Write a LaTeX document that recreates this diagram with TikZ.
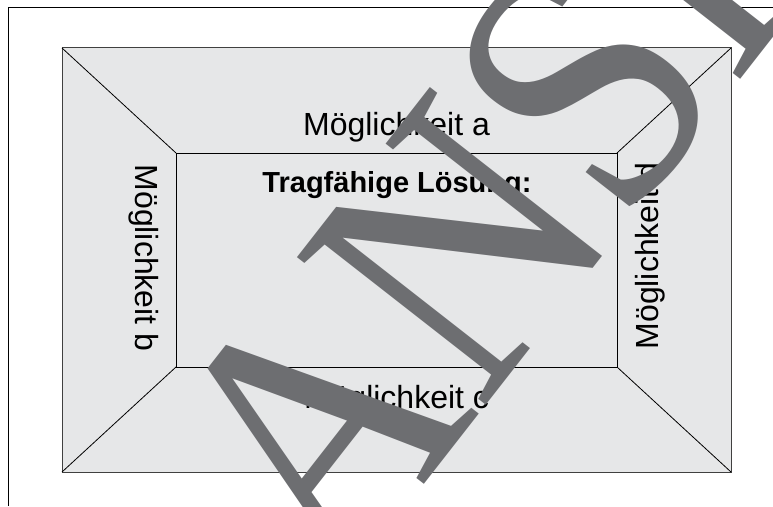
\documentclass[tikz,border=0pt]{standalone}
\usepackage{fontspec}
\setmainfont{Liberation Sans}
\newfontfamily\wmfont{Liberation Serif}
\usepackage{tikz}
\usetikzlibrary{positioning}
\definecolor{feldgrau}{HTML}{E6E7E8}
\definecolor{wmgrau}{HTML}{6D6E71}

\begin{document}
\begin{tikzpicture}[x=1pt,y=1pt,
    lbl/.style={inner sep=0pt,anchor=base,font=\fontsize{32}{32}\selectfont},
    kante/.style={line width=0.8pt}]
    \useasboundingbox (0,0) rectangle (773,506);
    \clip (0,0) rectangle (773,506);
    \draw[kante] (8,0) -- (8,499) -- (773,499);
    % aussen und innen
    \coordinate (o1) at (62,458);  \coordinate (o2) at (731,458);
    \coordinate (o3) at (731,34);  \coordinate (o4) at (62,34);
    \coordinate (i1) at (176,353); \coordinate (i2) at (617,353);
    \coordinate (i3) at (617,139); \coordinate (i4) at (176,139);
    \filldraw[fill=feldgrau,draw=black!75,line width=1pt] (o1) -- (o2) -- (o3) -- (o4) -- cycle;
    \draw[kante] (i1) -- (i2) -- (i3) -- (i4) -- cycle;
    \foreach \k in {1,...,4}
    {\draw[kante] (o\k) -- (i\k);}
    \node[lbl] (ma) at (396.5,370) {Möglichkeit a};
    \node[lbl,font=\bfseries\fontsize{29}{29}\selectfont] (loes) at (397,313) {Tragfähige Lösung:};
    \node[lbl,rotate=-90] (mb) at (135,248) {Möglichkeit b};
    \node[lbl] (mc) at (396.5,98) {Möglichkeit c};
    \node[lbl,rotate=90] (md) at (658,250) {Möglichkeit d};
    \node[rotate=52,anchor=base west,inner sep=0pt,text=wmgrau,
      font=\wmfont\fontsize{366}{366}\selectfont] (wm) at (337,-90) {\scalebox{0.88}[1]{ANSICHT}};
\end{tikzpicture}
\end{document}
